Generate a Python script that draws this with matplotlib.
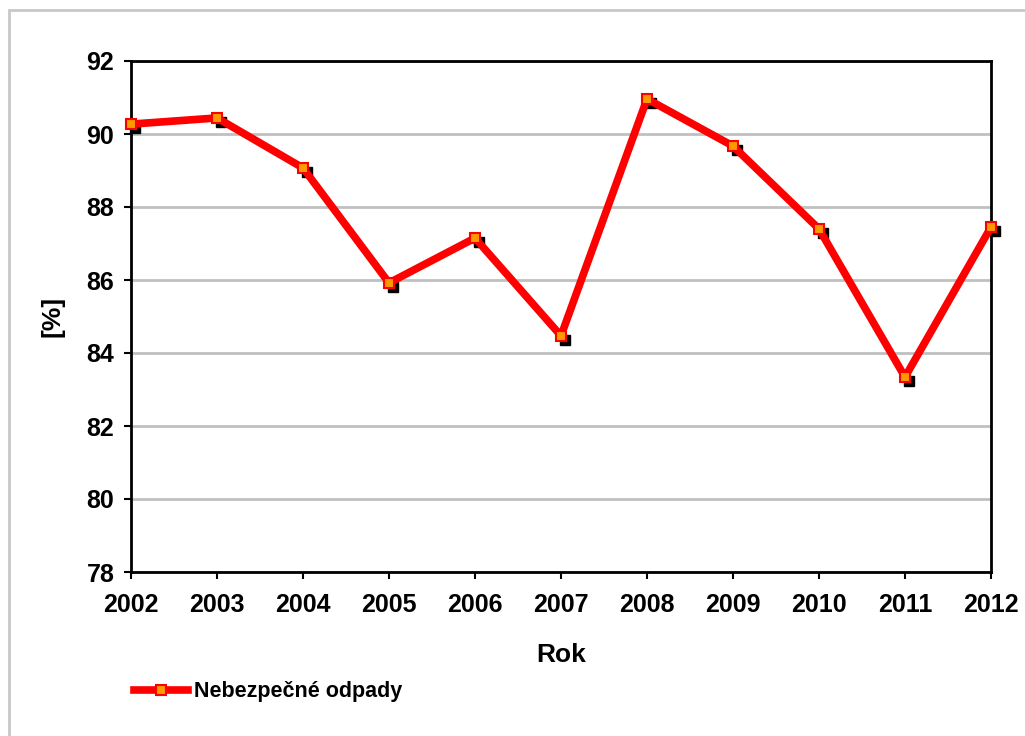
import matplotlib
matplotlib.use("Agg")
import matplotlib.pyplot as plt
import matplotlib.transforms as mtransforms
from matplotlib.patches import Rectangle

# data
years = [2002, 2003, 2004, 2005, 2006, 2007, 2008, 2009, 2010, 2011, 2012]
values = [90.27, 90.44, 89.07, 85.92, 87.15, 84.47, 90.96, 89.67, 87.40, 83.34, 87.45]
y_ticks = [78, 80, 82, 84, 86, 88, 90, 92]
series_name = "Nebezpečné odpady"

plt.rcParams['font.family'] = ['Liberation Sans', 'DejaVu Sans']
plt.rcParams['font.weight'] = 'bold'

fig = plt.figure(figsize=(10.25, 7.36), dpi=100)
fig.patch.set_facecolor('white')
# outer chart frame (runs off the right and bottom edges)
fig.patches.append(Rectangle((9 / 1025, -20 / 736), 1100 / 1025, 746 / 736,
                             transform=fig.transFigure, fill=False,
                             edgecolor='#c8c8c8', linewidth=2))

ax = fig.add_axes([131 / 1025, 164 / 736, 860 / 1025, 511 / 736])

# shadow squares
shadow = mtransforms.offset_copy(ax.transData, fig=fig, x=4, y=-4, units='dots')
ax.plot(years, values, linestyle='none', marker='s', markersize=7,
        color='black', transform=shadow, zorder=2, clip_on=False)

ax.plot(years, values, color='#ff0000', linewidth=5.5, marker='s',
        markersize=7, markerfacecolor='#ff9900', markeredgecolor='#ff0000',
        markeredgewidth=1.5, zorder=3, clip_on=False, label=series_name)

ax.set_xlim(2002, 2012)
ax.set_ylim(78, 92)
ax.set_xticks(years)
ax.set_yticks(y_ticks)
ax.tick_params(axis='both', labelsize=18, direction='out', length=5, width=1.5)
ax.tick_params(axis='x', pad=10)
ax.tick_params(axis='y', pad=7)
for lab in ax.get_xticklabels() + ax.get_yticklabels():
    lab.set_fontweight('bold')
ax.yaxis.grid(True, color='#c0c0c0', linewidth=2)
ax.set_axisbelow(True)
for s in ax.spines.values():
    s.set_linewidth(2)
    s.set_color('black')

ax.set_xlabel("Rok", fontsize=19, fontweight='bold', labelpad=19)
ax.set_ylabel("[%]", fontsize=19, fontweight='bold', labelpad=16)

leg = fig.legend(loc='center left', bbox_to_anchor=(115 / 1025, 1 - 692 / 736),
                 frameon=False, handlelength=2.5, handletextpad=0.25,
                 prop={'weight': 'bold', 'size': 15.5})

fig.savefig("out.png", dpi=100)
